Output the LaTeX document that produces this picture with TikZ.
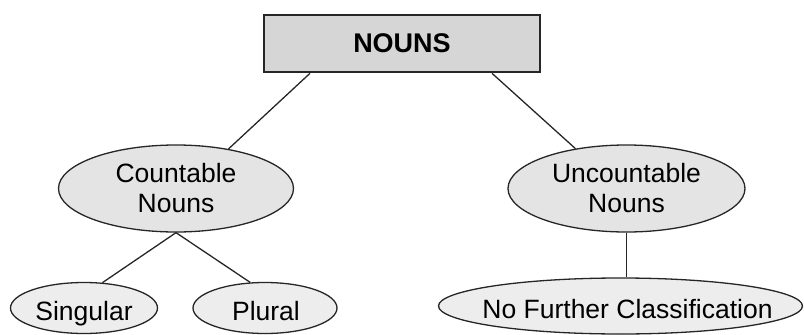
\documentclass[tikz,border=0pt]{standalone}
\usepackage{fontspec}
\setmainfont{Liberation Sans}
\usetikzlibrary{shapes.geometric}
\definecolor{boxfill}{HTML}{D6D6D6}
\definecolor{midfill}{HTML}{E4E4E4}
\definecolor{lowfill}{HTML}{EDEDEE}
\tikzset{
  lbl/.style={font=\fontsize{26.5}{30}\selectfont, align=center, inner sep=0pt},
  ell/.style={ellipse, draw=black!85, line width=1.3pt, inner sep=0pt},
  topbox/.style={rectangle, draw=black!85, line width=2.6pt, fill=boxfill, inner sep=0pt,
     minimum width=276pt, minimum height=57pt, font=\fontsize{27}{30}\selectfont\bfseries},
  conn/.style={draw=black!85, line width=1.3pt}
}
\begin{document}
\begin{tikzpicture}[x=1pt,y=-1pt]
\useasboundingbox (0,0) rectangle (804,335);
\node[topbox] (nouns) at (402,43.5) {NOUNS};
\node[ell, fill=midfill, minimum width=235pt, minimum height=87pt] (count) at (176,188.5) {};
\node[lbl] (countT) at (count) {Countable\\Nouns};
\node[ell, fill=midfill, minimum width=237pt, minimum height=87pt] (uncount) at (626.5,188.5) {};
\node[lbl] (uncountT) at (uncount) {Uncountable\\Nouns};
\node[ell, fill=lowfill, minimum width=147pt, minimum height=51pt] (sing) at (84,308) {};
\node[lbl, anchor=base] (singT) at (84,320) {Singular};
\node[ell, fill=lowfill, minimum width=144pt, minimum height=51pt] (plur) at (265,308) {};
\node[lbl, anchor=base] (plurT) at (266,320) {Plural};
\node[ell, fill=lowfill, minimum width=364pt, minimum height=56pt] (nofur) at (620.5,306) {};
\node[lbl, anchor=base] (nofurT) at (627.5,318) {No Further Classification};
\draw[conn] ([xshift=-92pt]nouns.south) -- (count.37);
\draw[conn] ([xshift=90pt]nouns.south) -- (uncount.142);
\draw[conn] (count.south) -- (sing.54);
\draw[conn] (count.south) -- (plur.120);
\draw[conn] (uncount.south) -- (uncount.south |- nofur.north);
\end{tikzpicture}
\end{document}
